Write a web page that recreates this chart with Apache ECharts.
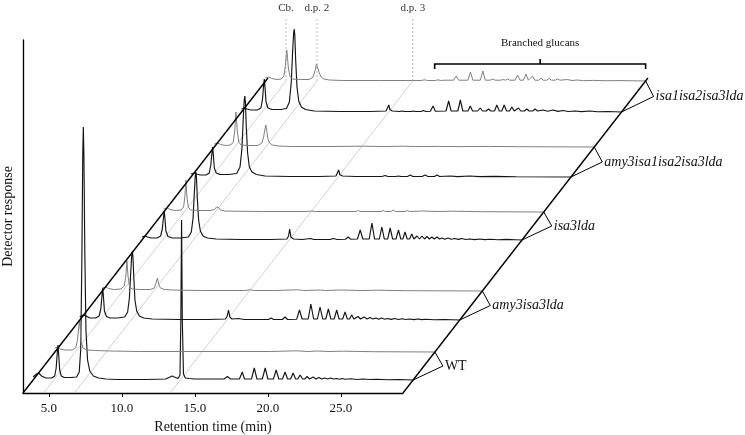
<!DOCTYPE html>
<html><head><meta charset="utf-8">
<script src="https://cdn.jsdelivr.net/npm/echarts@6/dist/echarts.min.js"></script>
<style>html,body{margin:0;padding:0;background:#fff}#c{width:745px;height:435px}</style>
</head><body><div id="c"></div>
<script>
// ---------------- DATA ----------------
const timeMin = 3.22, timeMax = 29.25;
const tickValues = [5, 10, 15, 20, 25];
const genotypes = ['WT', 'amy3isa3lda', 'isa3lda', 'amy3isa1isa2isa3lda', 'isa1isa2isa3lda'];
const markerLabels = ['Cb.', 'd.p. 2', 'd.p. 3'];
const markerTimes = [4.62, 6.74, 13.3];
const branchedRange = [14.8, 29.25];

// [retention time (min), detector response]
const WT_black = [[3.22,3],[3.45,6],[3.6,7],[3.8,4],[4.1,2],[4.5,2],
 [4.7,4],[4.8,12],[4.87,26],[4.92,35],[4.97,26],[5.04,10],[5.15,4],[5.35,2.5],[5.8,2.5],[6.2,3],
 [6.38,8],[6.48,30],[6.56,120],[6.62,225],[6.66,253],[6.70,225],[6.76,130],[6.84,50],[6.95,20],[7.1,9],[7.35,4],[7.7,2],[8.2,1],
 [9,0.5],[10,0.5],[11,0.5],[12.3,1],[12.6,3],[12.75,4],[12.9,3],[13.15,1.5],
 [13.28,5],[13.34,60],[13.39,160],[13.44,60],[13.52,6],[13.65,2],[13.9,1.5],[14.3,1],[14.8,1],
 [15.1,1],[15.23,2.5],[15.4,1],[16.3,1],[16.53,3.5],[16.75,1],
 [17.35,1],[17.55,8],[17.7,1],[18.18,1],[18.37,12],[18.55,1],[18.92,1],[19.12,12],[19.3,1],
 [19.68,1],[19.87,10],[20.05,1],[20.3,1],[20.48,8],[20.65,1],[20.86,1],[21.03,7],[21.2,1],
 [21.35,1],[21.51,5],[21.68,1],[21.83,1],[21.99,3.5],[22.15,1],[22.4,3],[22.6,1],[22.8,2.5],[23.0,1],
 [23.2,2],[23.4,1],[23.6,2],[23.8,1],[24.0,1.5],[24.2,0.8],[24.4,1.5],[24.6,0.8],[25.0,1.2],[25.4,0.5],
 [25.8,1],[26.3,0.5],[26.8,0.8],[27.5,0.3],[28.3,0.5],[29.25,0]];
const WT_grey = [[3.22,4],[3.45,5],[3.6,3],[3.9,2],[4.4,2],[4.65,4],[4.77,12],[4.85,24],[4.9,32],[4.95,24],
 [5.02,10],[5.15,4],[5.4,2],[6,1.5],[7,1],[9,0.5],[12,0.5],[15,0.5],[18,0.5],[19.8,1.2],[20.5,0.5],
 [21.2,1],[22,0.5],[23,0.8],[25,0.3],[29.25,0]];
const amy3isa3lda_black = [[3.22,3],[3.45,5],[3.65,4],[3.9,2],[4.3,2],[4.55,4],[4.66,11],[4.74,24],[4.79,32],[4.84,24],
 [4.91,9],[5.05,3.5],[5.3,2],[5.8,2],[6.3,3],[6.5,8],[6.62,22],[6.72,50],[6.78,65],[6.82,69],[6.86,64],[6.92,43],
 [7.0,20],[7.12,9],[7.3,4],[7.6,2],[8.2,1],[10,0.5],[12,0.5],[13.2,1],[13.32,4],[13.41,10],[13.5,3],[13.65,1],
 [14.08,1.5],[14.5,0.5],[15.5,0.5],[16.15,0.5],[16.33,2],[16.5,0.5],[17.1,0.5],[17.29,3],[17.45,0.5],
 [18.08,0.8],[18.27,10],[18.45,1],[18.87,1],[19.05,16],[19.24,1],[19.5,1],[19.68,13],[19.86,1],
 [20.07,1],[20.25,11],[20.42,1],[20.65,1],[20.82,10],[20.98,1],[21.23,1],[21.39,8],[21.55,1],
 [21.7,1],[21.85,5],[22.0,1],[22.1,1],[22.28,3.5],[22.45,1],[22.7,3],[22.9,1],[23.1,2.5],[23.3,1],
 [23.5,2],[23.7,0.8],[23.9,2],[24.1,0.8],[24.3,1.5],[24.55,0.6],[24.8,1.5],[25.05,0.5],[25.3,1.2],
 [25.55,0.5],[25.8,1],[26.1,0.4],[26.4,1],[26.65,0.4],[26.9,0.8],[27.5,0.3],[28.2,0.5],[29.25,0]];
const amy3isa3lda_grey = [[3.22,3],[3.45,4],[3.65,2.5],[4.0,1.5],[4.5,2],[4.72,5],[4.83,15],[4.91,30],[4.98,15],
 [5.08,5],[5.25,2],[5.8,1.5],[6.5,1.5],[6.78,3],[6.9,8],[7.0,13],[7.08,7],[7.2,3],[7.45,1.5],[8,1],[10,0.5],
 [13,0.5],[13.37,1.2],[13.6,0.5],[15,0.5],[16.6,1.2],[17,0.5],[18.15,1],[18.5,0.5],[19.5,1],[21,0.5],
 [22,0.8],[24,0.3],[29.25,0]];
const isa3lda_black = [[3.22,3],[3.45,4],[3.6,3],[3.85,2],[4.25,2],[4.5,4],[4.61,11],[4.69,22],[4.74,29],[4.79,22],
 [4.86,9],[5.0,3.5],[5.3,2],[5.9,2],[6.4,3],[6.6,8],[6.72,22],[6.81,48],[6.87,64],[6.91,68],[6.95,63],[7.01,42],
 [7.1,20],[7.22,9],[7.4,4],[7.7,2],[8.3,1],[10,0.5],[12,0.5],[13.15,1],[13.26,4],[13.34,11],[13.42,3],[13.6,1],
 [14.2,0.5],[14.76,1.5],[15.0,0.5],[16.1,0.5],[16.33,1.5],[16.6,0.5],[17.15,0.8],[17.35,3],[17.5,0.8],
 [17.98,1],[18.17,10],[18.35,1],[18.79,1],[18.97,17],[19.15,1],[19.48,1],[19.65,13],[19.82,1],
 [20.05,1],[20.22,12],[20.39,1],[20.62,1],[20.79,10],[20.95,1],[21.09,1],[21.24,8],[21.39,1],
 [21.55,1],[21.7,6],[21.85,1],[22.06,4],[22.23,1],[22.4,4],[22.57,1],[22.74,3.5],[22.91,1],[23.08,3],
 [23.25,1],[23.43,3],[23.6,1],[23.77,2],[23.97,0.8],[24.18,2],[24.4,0.8],[24.65,1.5],[24.9,0.6],
 [25.13,1.5],[25.4,0.5],[25.68,1],[26.0,0.4],[26.36,1],[26.7,0.4],[27.1,0.8],[27.6,0.3],[28.2,0.6],
 [28.8,0.3],[29.25,0]];
const isa3lda_grey = [[3.22,3],[3.45,4],[3.65,2.5],[4.0,1.5],[4.4,2],[4.58,5],[4.67,16],[4.74,32],[4.8,16],[4.9,5],
 [5.05,2],[5.6,1.5],[6.4,1.5],[6.7,2.5],[6.84,5],[6.91,6],[6.98,4.5],[7.1,2],[7.4,1],[8,0.8],[10,0.5],[13,0.5],
 [13.35,1],[13.6,0.5],[16.4,0.5],[16.55,1.5],[16.7,0.5],[18.1,0.5],[18.26,1.5],[18.4,0.5],[18.8,0.5],
 [18.94,2],[19.1,0.5],[19.75,0.5],[19.9,1.5],[20.05,0.5],[21,1],[22,0.5],[23,0.8],[25,0.3],[29.25,0]];
const amy3isa1isa2isa3lda_black = [[3.22,3],[3.45,4],[3.6,3],[3.85,2],[4.25,2],[4.47,4],[4.58,12],[4.65,23],[4.7,30],
 [4.75,23],[4.82,9],[4.95,4],[5.2,2.5],[5.8,2.5],[6.35,3.5],[6.58,10],[6.71,28],[6.8,58],[6.87,77],[6.91,81],
 [6.95,75],[7.01,50],[7.1,24],[7.22,10],[7.4,5],[7.7,2.5],[8.3,1],[10,0.5],[12,0.5],[13.15,1],[13.27,3],
 [13.34,7],[13.41,2.5],[13.6,1],[14.5,0.5],[16.3,0.5],[16.53,1.5],[16.7,0.5],[17.25,0.5],[17.42,1],[17.6,0.5],
 [18.05,0.5],[18.24,2],[18.42,0.5],[19.05,0.5],[19.26,2],[19.45,0.5],[19.9,0.5],[20.08,2],[20.25,0.5],
 [20.97,1],[21.5,0.4],[22.3,1],[23,0.4],[24,0.6],[25.5,0.3],[29.25,0]];
const amy3isa1isa2isa3lda_grey = [[3.22,3],[3.45,4],[3.65,2.5],[4.0,1.5],[4.35,2],[4.52,5],[4.62,16],[4.67,28],[4.7,35],
 [4.74,28],[4.8,15],[4.9,5],[5.05,2],[5.6,1.5],[6.2,1.5],[6.48,4],[6.6,10],[6.69,18],[6.75,22],[6.8,18],[6.88,9],
 [7.0,4],[7.2,2],[7.6,1],[8.5,0.5],[11,0.5],[13.35,0.8],[15,0.5],[16.2,0.8],[17,0.4],[18.5,0.6],[20,0.4],
 [22,0.6],[24,0.3],[29.25,0]];
const isa1isa2isa3lda_black = [[3.22,3],[3.45,4],[3.6,3],[3.85,2],[4.3,2],[4.55,4],[4.66,13],[4.73,26],[4.78,33],[4.83,25],
 [4.9,10],[5.03,4],[5.3,2.5],[5.9,2.5],[6.3,3.5],[6.5,10],[6.63,30],[6.72,60],[6.79,79],[6.83,83],[6.87,77],[6.93,52],
 [7.02,25],[7.14,11],[7.32,5],[7.6,2.5],[8.2,1],[10,0.5],[12,0.5],[13.12,1],[13.24,3],[13.31,7],[13.38,2.5],
 [13.55,1],[14.05,0.5],[14.23,1],[14.4,0.5],[14.85,0.5],[15.0,1],[15.15,0.5],[15.52,0.5],[15.68,1.5],[15.85,0.5],
 [16.16,0.8],[16.34,6],[16.5,0.8],[17.23,1],[17.41,11],[17.58,1],[18.04,1],[18.21,12],[18.38,1],
 [18.73,1],[18.89,6],[19.05,1],[19.4,1],[19.57,4],[19.73,1],[19.98,1],[20.14,3],[20.3,1],
 [20.55,1],[20.71,7],[20.88,1],[21.05,1],[21.21,7],[21.38,1],[21.58,1],[21.74,5],[21.9,1],
 [22.03,1],[22.19,4],[22.35,1],[22.6,1],[22.76,3],[22.93,1],[23.17,1],[23.33,3],[23.5,1],
 [23.87,2],[24.2,0.8],[24.55,2],[24.9,0.6],[25.24,1.5],[25.6,0.5],[26.06,1],[26.5,0.4],[27.08,1],
 [27.6,0.3],[28.3,0.5],[29.25,0]];
const isa1isa2isa3lda_grey = [[3.22,3],[3.45,4],[3.65,2.5],[4.0,1.5],[4.3,2],[4.47,5],[4.57,15],[4.63,25],[4.67,31],
 [4.71,25],[4.78,13],[4.88,5],[5.05,2],[5.6,1.5],[6.2,1.5],[6.48,4],[6.6,10],[6.7,17],[6.76,19],[6.82,15],[6.9,8],
 [7.02,4],[7.2,2],[7.6,1],[8.5,0.5],[11,0.5],[13.3,0.5],[13.9,0.5],[14.1,1.2],[14.3,0.5],[14.85,0.5],[15.02,1.2],
 [15.2,0.5],[15.45,0.8],[16.1,0.8],[16.27,5],[16.45,0.8],[17.08,0.8],[17.25,9],[17.42,0.8],
 [17.93,0.8],[18.1,10],[18.27,0.8],[18.6,0.8],[18.78,2],[18.95,0.8],[19.3,0.8],[19.5,1.5],[19.65,0.8],
 [19.8,2],[19.95,0.8],[20.31,0.8],[20.48,6],[20.65,0.8],[20.88,0.8],[21.05,7],[21.22,0.8],
 [21.34,0.8],[21.5,5],[21.66,0.8],[21.92,0.8],[22.08,3],[22.24,0.8],[22.48,0.8],[22.64,2.5],[22.8,0.8],
 [23.06,0.8],[23.22,2],[23.38,0.8],[23.9,1.5],[24.2,0.5],[24.58,1],[25,0.3],[25.6,0.6],[26.5,0.3],
 [27.5,0.4],[29.25,0]];

const traceSets = [
  [WT_black, WT_grey],
  [amy3isa3lda_black, amy3isa3lda_grey],
  [isa3lda_black, isa3lda_grey],
  [amy3isa1isa2isa3lda_black, amy3isa1isa2isa3lda_grey],
  [isa1isa2isa3lda_black, isa1isa2isa3lda_grey]
];

// ---------------- LAYOUT ----------------
const axisLeft = 23, axisBottomY = 393, plotWidth = 380, axisTopY = 40;
const depthPx = [13, 41, 73, 102, 153, 181, 216, 246, 281, 312]; // black, grey per genotype
const frameTopDepth = 315;
const slant = 0.7776;           // horizontal shift per px of depth
const SERIF = "'Liberation Serif','Times New Roman',serif";
const BLACK = '#151515', GREY = '#808080';

const grids = [], xAxes = [], yAxes = [], series = [];
grids.push({left: axisLeft, top: axisTopY, width: plotWidth, height: axisBottomY - axisTopY,
  containLabel: false, outerBoundsMode: 'none'});
xAxes.push({gridIndex: 0, type: 'value', min: timeMin, max: timeMax,
  name: 'Retention time (min)', nameLocation: 'middle', nameGap: 26,
  nameTextStyle: {fontFamily: SERIF, fontSize: 14, color: '#111'},
  axisLine: {show: true, onZero: false, lineStyle: {color: '#000', width: 1.3}},
  axisTick: {show: true, customValues: tickValues, inside: false, length: 4, lineStyle: {color: '#000'}},
  axisLabel: {show: true, customValues: tickValues, formatter: v => Number(v).toFixed(1),
    fontFamily: SERIF, fontSize: 13, color: '#111', margin: 9},
  splitLine: {show: false}});
yAxes.push({gridIndex: 0, type: 'value', min: 0, max: 1,
  name: 'Detector response', nameLocation: 'middle', nameGap: 8, nameRotate: 90,
  nameTextStyle: {fontFamily: SERIF, fontSize: 14, color: '#111'},
  axisLine: {show: true, onZero: false, lineStyle: {color: '#000', width: 1.3}},
  axisTick: {show: false}, axisLabel: {show: false}, splitLine: {show: false}});

let k = 0;
traceSets.forEach((pair, g) => {
  pair.forEach((data, j) => {
    const d = depthPx[k];
    const gi = grids.length;
    const h = axisBottomY - d;
    grids.push({left: axisLeft + d * slant, top: 0, width: plotWidth, height: h,
      containLabel: false, outerBoundsMode: 'none'});
    xAxes.push({gridIndex: gi, type: 'value', min: timeMin, max: timeMax, show: false});
    yAxes.push({gridIndex: gi, type: 'value', min: 0, max: h, show: false});
    series.push({type: 'line', name: genotypes[g] + (j ? ' grey' : ' black'),
      xAxisIndex: gi, yAxisIndex: gi, data: data, symbol: 'none', showSymbol: false,
      silent: true, clip: false, z: 3,
      lineStyle: {color: j ? GREY : BLACK, width: j ? 1 : 1.15}});
    k++;
  });
});

const chart = echarts.init(document.getElementById('c'), null, {renderer: 'canvas'});
chart.setOption({animation: false, backgroundColor: '#fff', grid: grids, xAxis: xAxes, yAxis: yAxes, series: series});

// ---------------- ANNOTATIONS ----------------
const px = (gi, t, r) => chart.convertToPixel({gridIndex: gi}, [t, r]);
const topGi = grids.length - 1;
const els = [];
markerTimes.forEach((t, i) => {
  const a = px(0, t, 0), b = px(topGi, t, 0);
  els.push({type: 'line', z: 1, shape: {x1: a[0], y1: a[1], x2: b[0], y2: b[1]},
    style: {stroke: '#c4c4c4', lineWidth: 0.8}});
  els.push({type: 'line', z: 1, shape: {x1: b[0], y1: b[1], x2: b[0], y2: 17},
    style: {stroke: '#b0b0b0', lineWidth: 0.8, lineDash: [2, 2]}});
  els.push({type: 'text', z: 5, x: b[0], y: 8,
    style: {text: markerLabels[i], font: '11px ' + SERIF, fill: '#333',
      align: 'center', verticalAlign: 'middle', textAlign: 'center', textVerticalAlign: 'middle'}});
});
[timeMin, timeMax].forEach(t => {
  const a = px(0, t, 0);
  els.push({type: 'line', z: 10, shape: {x1: a[0], y1: a[1], x2: a[0] + frameTopDepth * slant, y2: a[1] - frameTopDepth},
    style: {stroke: '#000', lineWidth: 1.4}});
});
genotypes.forEach((name, g) => {
  const bGi = 1 + 2 * g, gGi = 2 + 2 * g;
  const pB = px(bGi, timeMax, 0), pG = px(gGi, timeMax, 0);
  const apex = [pG[0] + 8, (pG[1] + pB[1]) / 2];
  els.push({type: 'polyline', z: 10, shape: {points: [pG, apex, pB]},
    style: {stroke: '#000', lineWidth: 1, fill: null}});
  els.push({type: 'text', z: 10, x: apex[0] + 2, y: apex[1],
    style: {text: name, font: (name === 'WT' ? '' : 'italic ') + '14px ' + SERIF, fill: '#111',
      align: 'left', verticalAlign: 'middle', textAlign: 'left', textVerticalAlign: 'middle'}});
});
{
  const pL = px(topGi, branchedRange[0], 0), pR = px(topGi, branchedRange[1], 0);
  const y = pL[1] - 17, mid = (pL[0] + pR[0]) / 2;
  els.push({type: 'polyline', z: 10, shape: {points: [[pL[0], y + 5], [pL[0], y], [pR[0], y], [pR[0], y + 5]]},
    style: {stroke: '#000', lineWidth: 1.6, fill: null}});
  els.push({type: 'line', z: 10, shape: {x1: mid, y1: y, x2: mid, y2: y - 5},
    style: {stroke: '#000', lineWidth: 1.6}});
  els.push({type: 'text', z: 10, x: mid, y: y - 21,
    style: {text: 'Branched glucans', font: '11px ' + SERIF, fill: '#111',
      align: 'center', verticalAlign: 'middle', textAlign: 'center', textVerticalAlign: 'middle'}});
}
chart.setOption({graphic: {elements: els}});
</script></body></html>
